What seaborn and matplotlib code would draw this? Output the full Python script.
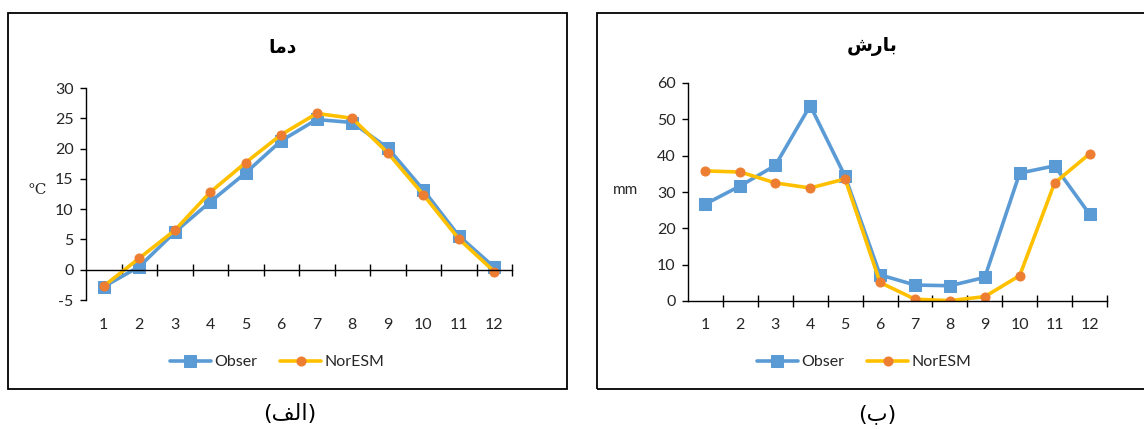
import matplotlib
matplotlib.use("Agg")
import matplotlib.pyplot as plt
from matplotlib.patches import Rectangle
from matplotlib.ticker import FixedLocator, NullFormatter
import numpy as np
import pandas as pd
import seaborn as sns

# Monthly data: observed vs NorESM model
months = list(range(1, 13))
temp_obser = [-2.8, 0.5, 6.2, 11.2, 16.0, 21.3, 24.8, 24.3, 20.1, 13.2, 5.6, 0.4]
temp_noresm = [-2.7, 1.9, 6.5, 12.8, 17.7, 22.3, 25.8, 25.0, 19.3, 12.4, 5.1, -0.3]
precip_obser = [26.7, 31.7, 37.3, 53.8, 34.3, 7.2, 4.4, 4.2, 6.5, 35.2, 37.2, 23.9]
precip_noresm = [35.8, 35.5, 32.5, 31.1, 33.6, 5.1, 0.5, 0.1, 1.2, 7.0, 32.5, 40.5]
series_names = ["Obser", "NorESM"]

# Persian labels, pre-shaped (presentation forms, visual order)
title_temp = "\uFE8E\uFEE3\uFEA9"            # دما
title_precip = "\uFEB5\uFEAD\uFE8E\uFE91"    # بارش
panel_a = "(\uFED2\uFEDF\uFE8D)"             # (الف)
panel_b = "(\uFE8F)"                          # (ب)

sns.set_theme(style="white")
plt.rcParams["font.family"] = ["Lato", "DejaVu Sans"]

W, H = 1144, 429
fig = plt.figure(figsize=(W / 100, H / 100), dpi=100)
fig.patch.set_facecolor("white")

BLUE = "#5B9BD5"
GOLD = "#FFC000"
ORANGE = "#ED7D31"
TXT = "#262626"


def px_axes(x0, y0, x1, y1):
    return fig.add_axes([x0 / W, 1 - y1 / H, (x1 - x0) / W, (y1 - y0) / H])


def fig_xy(x, y):
    return x / W, 1 - y / H


def draw_panel(ax, obser, noresm, ylim, yticks, spine_y, label_pad):
    df = pd.DataFrame({"month": months * 2,
                       "value": list(obser) + list(noresm),
                       "series": [series_names[0]] * 12 + [series_names[1]] * 12})
    sns.lineplot(data=df[df.series == "Obser"], x="month", y="value", ax=ax,
                 color=BLUE, lw=2.6, marker="s", markersize=8.5,
                 markerfacecolor=BLUE, markeredgecolor=BLUE, label="Obser")
    sns.lineplot(data=df[df.series == "NorESM"], x="month", y="value", ax=ax,
                 color=GOLD, lw=2.6, marker="o", markersize=6.5,
                 markerfacecolor=ORANGE, markeredgecolor=ORANGE, label="NorESM")
    ax.set_xlim(0.5, 12.5)
    ax.set_ylim(*ylim)
    ax.set_facecolor("none")
    for s in ["top", "right"]:
        ax.spines[s].set_visible(False)
    ax.spines["left"].set_color("black")
    ax.spines["left"].set_linewidth(1.0)
    ax.spines["bottom"].set_color("black")
    ax.spines["bottom"].set_linewidth(1.0)
    ax.spines["bottom"].set_position(("data", spine_y))
    ax.set_yticks(yticks)
    ax.set_yticklabels([str(v) for v in yticks])
    ax.tick_params(axis="y", which="major", left=True, direction="out",
                   length=4, width=1, color="black", pad=5,
                   labelsize=11.5, labelcolor=TXT)
    # category boundaries carry the crossing tick marks
    ax.xaxis.set_major_locator(FixedLocator(np.arange(1.5, 13.0, 1.0)))
    ax.xaxis.set_major_formatter(NullFormatter())
    ax.xaxis.set_minor_locator(FixedLocator(months))
    ax.set_xticklabels([str(m) for m in months], minor=True)
    ax.tick_params(axis="x", which="major", bottom=True, direction="inout",
                   length=8, width=1, color="black")
    ax.tick_params(axis="x", which="minor", bottom=True, length=0,
                   pad=label_pad, labelsize=11.5, labelcolor=TXT)
    ax.set_xlabel("")
    ax.set_ylabel("")
    if ax.get_legend() is not None:
        ax.get_legend().remove()
    return ax


# panel frames
fig.patches.append(Rectangle(fig_xy(8, 389), (567 - 8) / W, (389 - 13) / H,
                             transform=fig.transFigure, fill=False,
                             edgecolor="black", lw=1.3))
fig.patches.append(Rectangle(fig_xy(597, 389), (1150 - 597) / W, (389 - 13) / H,
                             transform=fig.transFigure, fill=False,
                             edgecolor="black", lw=1.3))

# temperature panel
ax1 = px_axes(86, 88, 512, 300)
draw_panel(ax1, temp_obser, temp_noresm, (-5, 30), list(range(-5, 31, 5)), 0, 35)

# precipitation panel
ax2 = px_axes(688, 83, 1107, 301)
draw_panel(ax2, precip_obser, precip_noresm, (0, 60), list(range(0, 61, 10)), 0, 12)

# titles and axis units
fig.text(*fig_xy(283, 47), title_temp, ha="center", va="center",
         fontsize=13.5, fontweight="bold", family=["DejaVu Sans"], color="black")
fig.text(*fig_xy(872, 47), title_precip, ha="center", va="center",
         fontsize=13.5, fontweight="bold", family=["DejaVu Sans"], color="black")
fig.text(*fig_xy(37, 190), "\u00b0C", ha="center", va="center",
         fontsize=11, family=["DejaVu Serif"], color=TXT)
fig.text(*fig_xy(625, 190), "mm", ha="center", va="center",
         fontsize=11, color=TXT)

# legends
for ax, cx in [(ax1, 277), (ax2, 864)]:
    h, l = ax.get_legend_handles_labels()
    fig.legend(h, l, loc="center", bbox_to_anchor=fig_xy(cx, 362), ncol=2,
               frameon=False, fontsize=11.5, handlelength=2.6,
               handletextpad=0.2, columnspacing=1.4, numpoints=1,
               labelcolor=TXT)

# panel captions
fig.text(*fig_xy(290, 414), panel_a, ha="center", va="center",
         fontsize=16, family=["DejaVu Sans"], color="black")
fig.text(*fig_xy(877, 414), panel_b, ha="center", va="center",
         fontsize=16, family=["DejaVu Sans"], color="black")

fig.savefig("out.png", dpi=100, facecolor="white")
